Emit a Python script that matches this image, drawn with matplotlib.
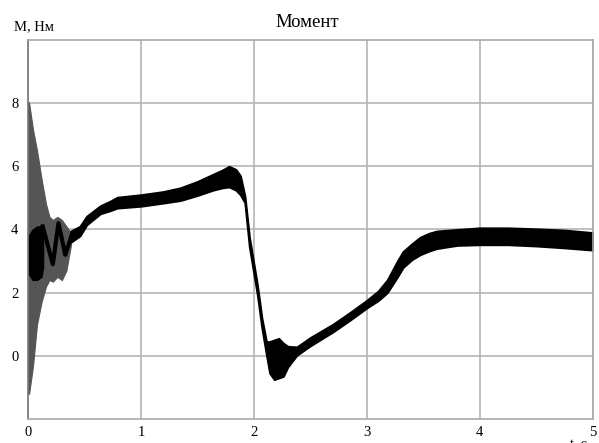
import matplotlib
matplotlib.use("Agg")
import matplotlib.pyplot as plt

plt.rcParams['font.family'] = ['Liberation Serif', 'DejaVu Serif']

# start-up oscillation, outer envelope (gray)
t_out = [0.0, 0.01, 0.045, 0.08, 0.12, 0.16, 0.19, 0.22, 0.26, 0.30, 0.34, 0.38]
out_hi = [8.05, 8.0, 7.15, 6.5, 5.6, 4.8, 4.4, 4.3, 4.4, 4.3, 4.1, 3.9]
out_lo = [-1.2, -1.2, -0.3, 1.0, 1.7, 2.2, 2.4, 2.35, 2.5, 2.4, 2.7, 3.5]

# start-up, black core
t_core = [0.005, 0.04, 0.08, 0.12, 0.135]
core_hi = [3.8, 4.0, 4.1, 4.1, 4.1]
core_lo = [2.6, 2.4, 2.4, 2.5, 2.8]
t_zig = [0.13, 0.22, 0.27, 0.33, 0.39]
m_zig = [4.1, 2.9, 4.2, 3.2, 3.85]

# main trace with ripple band
t_main = [0.38, 0.46, 0.52, 0.64, 0.73, 0.79, 1.0, 1.2, 1.35, 1.5, 1.64, 1.72,
          1.78, 1.84, 1.88, 1.92, 1.96, 2.03, 2.07, 2.11, 2.14, 2.18, 2.22, 2.26,
          2.30, 2.38, 2.5, 2.7, 2.85, 3.0, 3.1, 3.18, 3.27, 3.32, 3.4, 3.47,
          3.55, 3.62, 3.8, 4.0, 4.25, 4.5, 4.75, 5.0]
m_hi = [3.95, 4.1, 4.42, 4.75, 4.9, 5.02, 5.1, 5.2, 5.32, 5.52, 5.75, 5.88,
        6.0, 5.9, 5.7, 5.05, 3.75, 2.25, 1.2, 0.45, 0.45, 0.5, 0.55, 0.4,
        0.3, 0.28, 0.58, 1.0, 1.37, 1.76, 2.05, 2.4, 3.0, 3.3, 3.55, 3.75,
        3.88, 3.95, 4.0, 4.05, 4.05, 4.02, 3.98, 3.9]
m_lo = [3.6, 3.8, 4.15, 4.5, 4.6, 4.68, 4.74, 4.84, 4.92, 5.08, 5.25, 5.32,
        5.35, 5.25, 5.1, 4.85, 3.45, 1.95, 0.9, 0.05, -0.55, -0.75, -0.7, -0.65,
        -0.35, 0.02, 0.32, 0.76, 1.13, 1.52, 1.75, 2.0, 2.5, 2.8, 3.05, 3.2,
        3.32, 3.4, 3.5, 3.52, 3.52, 3.48, 3.42, 3.35]

x_ticks = [0, 1, 2, 3, 4, 5]
y_ticks = [0, 2, 4, 6, 8]

fig = plt.figure(figsize=(5.99, 4.43), dpi=100)
ax = fig.add_axes([0.0467, 0.0542, 0.943, 0.8555])

ax.fill_between(t_out, out_lo, out_hi, color='#555555', lw=0.8)
ax.fill_between(t_core, core_lo, core_hi, color='black', lw=0.8)
ax.plot(t_zig, m_zig, color='black', lw=3)
ax.fill_between(t_main, m_lo, m_hi, color='black', lw=1.5, edgecolor='black')

ax.set_xlim(0, 5)
ax.set_ylim(-2, 10)
ax.set_xticks(x_ticks)
ax.set_yticks(y_ticks)
ax.tick_params(length=0, labelsize=10.5, pad=5)
ax.tick_params(axis='y', pad=7)
ax.grid(True, color='#b5b5b5', lw=1.2)
ax.set_axisbelow(True)
for s in ax.spines.values():
    s.set_color('#a8a8a8')
    s.set_linewidth(1.2)
ax.spines['left'].set_color('#777777')

fig.text(0.513, 0.95, 'Момент', ha='center', va='center', fontsize=13.5)
fig.text(0.024, 0.94, 'M, Нм', ha='left', va='center', fontsize=10.5)
fig.text(0.965, -0.004, 't, c', ha='center', va='center', fontsize=10)

fig.savefig('out.png', dpi=100)
